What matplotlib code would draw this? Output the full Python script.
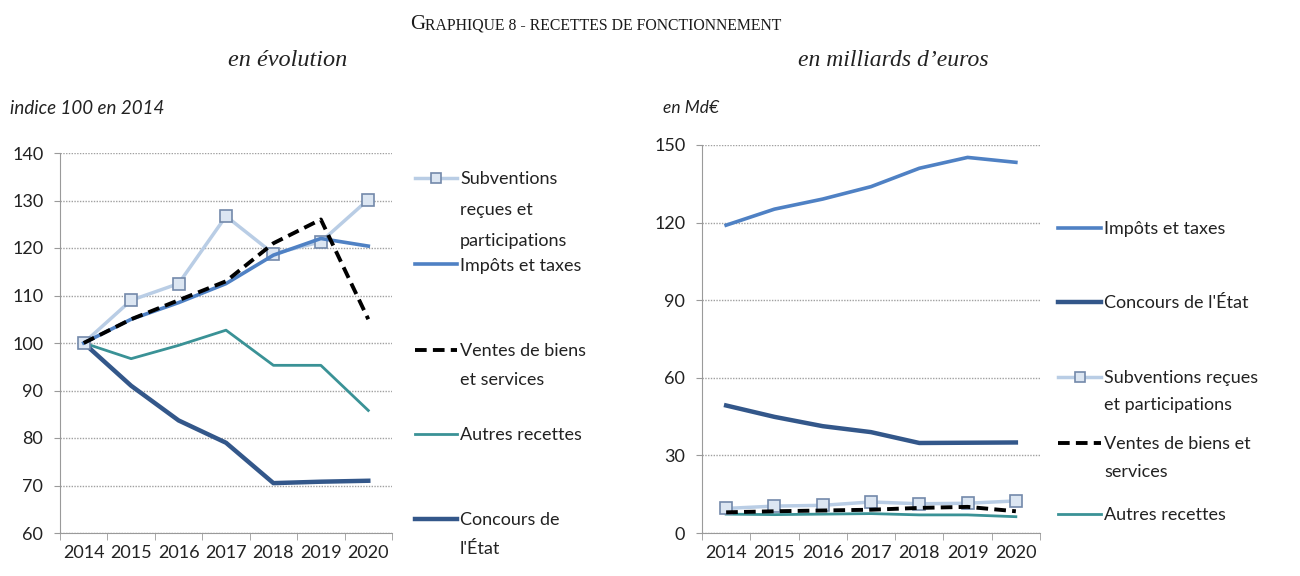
import matplotlib
matplotlib.use("Agg")
import matplotlib.pyplot as plt
from matplotlib.lines import Line2D
import numpy as np

# --- data ---
years = ["2014", "2015", "2016", "2017", "2018", "2019", "2020"]

# left: index 100 in 2014
idx_subventions = [100, 109.0, 112.5, 126.7, 118.8, 121.3, 130.2]
idx_impots = [100, 105.0, 108.5, 112.5, 118.5, 122.0, 120.4]
idx_ventes = [100, 105.0, 109.0, 113.0, 121.0, 126.0, 105.0]
idx_autres = [100, 96.7, 99.5, 102.7, 95.3, 95.3, 85.8]
idx_concours = [100, 91.0, 83.7, 79.0, 70.5, 70.8, 71.0]

# right: Md€
md_impots = [119.0, 125.2, 129.1, 133.9, 141.0, 145.2, 143.3]
md_concours = [49.3, 44.9, 41.3, 39.0, 34.8, 34.9, 35.0]
md_subventions = [9.5, 10.4, 10.7, 12.0, 11.3, 11.5, 12.4]
md_ventes = [8.0, 8.4, 8.7, 9.0, 9.7, 10.1, 8.4]
md_autres = [7.3, 7.1, 7.3, 7.5, 7.0, 7.0, 6.3]

# --- styles ---
C_SUB = "#b9cde5"
C_SUB_EDGE = "#7389aa"
C_SUB_FACE = "#dce6f2"
C_IMP = "#4f81c4"
C_CON = "#33578a"
C_AUT = "#3a9296"
C_VEN = "black"

styles = {
    "sub": dict(color=C_SUB, lw=2.5, marker="s", ms=8, mfc=C_SUB_FACE, mec=C_SUB_EDGE, mew=1.2),
    "imp": dict(color=C_IMP, lw=2.6),
    "ven": dict(color=C_VEN, lw=2.8, ls=(0, (3, 1.6))),
    "aut": dict(color=C_AUT, lw=2.0),
    "con": dict(color=C_CON, lw=3.2),
}

SANS = ["Lato", "DejaVu Sans"]
SERIF = ["Liberation Serif", "DejaVu Serif"]
W, H = 1300, 576

fig = plt.figure(figsize=(13, 5.76), dpi=100)


def fx(px):
    return px / W


def fy(py):
    return 1 - py / H


def style_axes(ax, yticks):
    x = np.arange(len(years))
    ax.set_xlim(-0.5, len(years) - 0.5)
    ax.set_xticks(x)
    ax.set_xticklabels(years)
    ax.set_xticks(np.arange(-0.5, len(years)), minor=True)
    ax.tick_params(axis="x", which="major", length=0, pad=9)
    ax.tick_params(axis="x", which="minor", length=5, color="#9a9a9a", direction="out")
    ax.set_yticks(yticks)
    ax.tick_params(axis="y", length=4, color="#9a9a9a", pad=8)
    for lab in ax.get_xticklabels() + ax.get_yticklabels():
        lab.set_family(SANS)
        lab.set_fontsize(13)
        lab.set_color("#222222")
    ax.grid(axis="y", color="#a0a0a0", ls=(0, (1, 1)), lw=1.0)
    ax.set_axisbelow(True)
    for s in ["top", "right"]:
        ax.spines[s].set_visible(False)
    ax.spines["left"].set_color("#9a9a9a")
    ax.spines["bottom"].set_color("#9a9a9a")
    ax.patch.set_alpha(0)


# left chart
ax1 = fig.add_axes([fx(60), fy(533), fx(332), (533 - 153) / H])
x = np.arange(len(years))
ax1.plot(x, idx_autres, **styles["aut"])
ax1.plot(x, idx_concours, **styles["con"])
ax1.plot(x, idx_subventions, **styles["sub"])
ax1.plot(x, idx_impots, **styles["imp"])
ax1.plot(x, idx_ventes, **styles["ven"])
ax1.set_ylim(60, 140)
style_axes(ax1, np.arange(60, 141, 10))

# right chart
ax2 = fig.add_axes([fx(702), fy(533), fx(338), (533 - 145) / H])
ax2.plot(x, md_impots, **styles["imp"])
ax2.plot(x, md_concours, **styles["con"])
ax2.plot(x, md_autres, **styles["aut"])
ax2.plot(x, md_subventions, **styles["sub"])
ax2.plot(x, md_ventes, **styles["ven"])
ax2.set_ylim(0, 150)
style_axes(ax2, np.arange(0, 151, 30))


def legend_entry(key, x0, x1, y_handle, lines, y_lines, tx):
    st = dict(styles[key])
    if "marker" in st:
        st["markevery"] = [1]
        st["ms"] = 7
        xs = [fx(x0), fx((x0 + x1) / 2), fx(x1)]
        ys = [fy(y_handle)] * 3
    else:
        xs = [fx(x0), fx(x1)]
        ys = [fy(y_handle)] * 2
    fig.add_artist(Line2D(xs, ys, transform=fig.transFigure, **st))
    for t, yy in zip(lines, y_lines):
        fig.text(fx(tx), fy(yy), t, family=SANS, fontsize=13, va="center", ha="left", color="#222222")


# left legend
legend_entry("sub", 415, 457, 178, ["Subventions", "reçues et", "participations"], [179, 210, 241], 460)
legend_entry("imp", 415, 457, 264, ["Impôts et taxes"], [266], 460)
legend_entry("ven", 415, 457, 350, ["Ventes de biens", "et services"], [351, 380], 460)
legend_entry("aut", 415, 457, 434, ["Autres recettes"], [435], 460)
legend_entry("con", 415, 457, 519, ["Concours de", "l'État"], [520, 549], 460)

# right legend
legend_entry("imp", 1058, 1101, 228, ["Impôts et taxes"], [229], 1104)
legend_entry("con", 1058, 1101, 302, ["Concours de l'État"], [303], 1104)
legend_entry("sub", 1058, 1101, 377, ["Subventions reçues", "et participations"], [378, 405], 1104)
legend_entry("ven", 1058, 1101, 443, ["Ventes de biens et", "services"], [444, 472], 1104)
legend_entry("aut", 1058, 1101, 514, ["Autres recettes"], [515], 1104)

# title in small caps look
g = fig.text(fx(410), fy(34), "G", family=SERIF, fontsize=15, va="bottom", ha="left", color="#1a1a1a")
fig.add_artist(plt.Annotation("RAPHIQUE 8 - RECETTES DE FONCTIONNEMENT", xy=(1, 0), xycoords=g,
                              va="bottom", ha="left", family=SERIF, fontsize=11.3, color="#1a1a1a"))

fig.text(fx(288), fy(60), "en évolution", family=SERIF, style="italic", fontsize=17.5, ha="center", va="center",
         color="#222222")
fig.text(fx(893), fy(60), "en milliards d’euros", family=SERIF, style="italic", fontsize=17, ha="center",
         va="center", color="#222222")
fig.text(fx(10), fy(108), "indice 100 en 2014", family=SANS, style="italic", fontsize=13.5, ha="left",
         va="center", color="#222222")
fig.text(fx(663), fy(108), "en Md€", family=SANS, style="italic", fontsize=12.5, ha="left", va="center",
         color="#222222")

fig.savefig("out.png", dpi=100)
